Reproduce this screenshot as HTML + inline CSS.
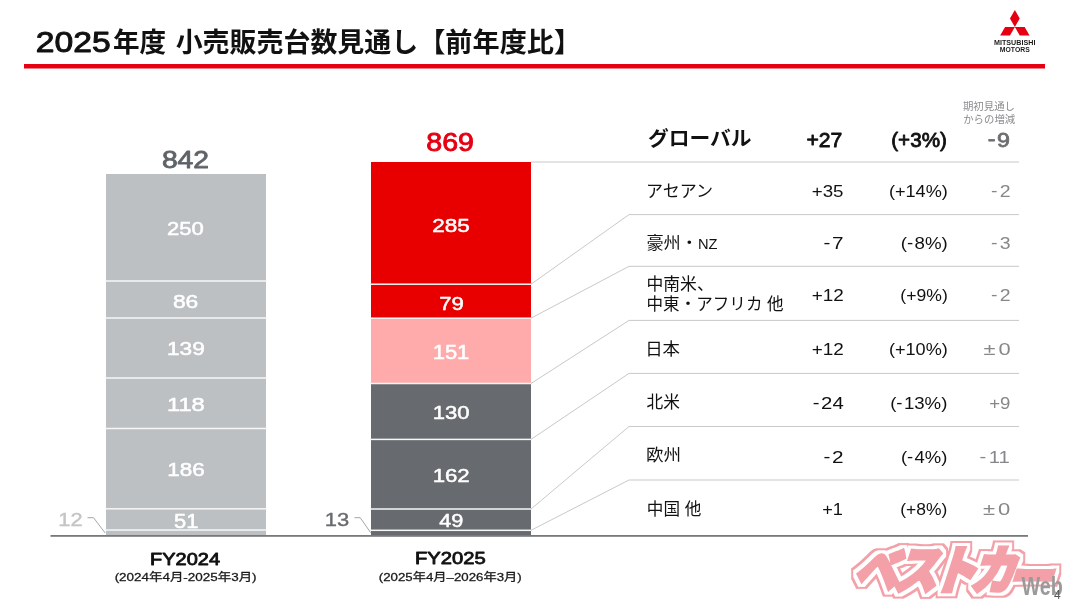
<!DOCTYPE html>
<html lang="ja">
<head>
<meta charset="utf-8">
<title>2025年度 小売販売台数見通し【前年度比】</title>
<style>
html,body{margin:0;padding:0;background:#fff;}
body{width:1071px;height:600px;overflow:hidden;font-family:"Liberation Sans","Noto Sans CJK JP",sans-serif;}
svg{display:block;}
svg text{font-family:"Liberation Sans","Noto Sans CJK JP",sans-serif;}
</style>
</head>
<body>
<svg width="1071" height="600" viewBox="0 0 1071 600">
<rect x="0" y="0" width="1071" height="600" fill="#ffffff"/>

<rect x="24" y="64" width="1021" height="4.5" fill="#e60012"/>
<text transform="translate(35.86 51.66) scale(1.1406 0.9839)" font-size="29.5" fill="#111111" stroke="#111111" stroke-width="1.0" stroke-linejoin="round">2025</text>
<text transform="translate(112.91 52.2) scale(0.9865 1.0000)" font-size="27" font-weight="bold" fill="#111111">年度 </text>
<text transform="translate(175.65 52.2) scale(0.9983 1.0000)" font-size="27" font-weight="bold" fill="#111111">小売販売台数見通し</text>
<text transform="translate(418.14 52.2) scale(1.0063 1.0000)" font-size="27" font-weight="bold" fill="#111111">【前年度比】</text>
<g fill="#e60012">
<polygon points="1014.86,26.90 1009.96,18.41 1014.86,9.93 1019.76,18.41"/>
<polygon points="1014.86,26.90 1005.06,26.90 1000.16,35.39 1009.96,35.39"/>
<polygon points="1014.86,26.90 1024.66,26.90 1029.56,35.39 1019.76,35.39"/>
</g>
<text transform="translate(994.03 44.8) scale(1.1380 1.0000)" font-size="6.3" font-weight="bold" fill="#1c1c1c">MITSUBISHI</text>
<text transform="translate(999.86 51.8) scale(1.0841 1.0000)" font-size="6.3" font-weight="bold" fill="#1c1c1c">MOTORS</text>
<rect x="106" y="174" width="160" height="361" fill="#bdc0c3"/>
<rect x="105" y="280.25" width="162" height="1.5" fill="#f6f6f7"/>
<rect x="105" y="317.25" width="162" height="1.5" fill="#f6f6f7"/>
<rect x="105" y="377.25" width="162" height="1.5" fill="#f6f6f7"/>
<rect x="105" y="427.75" width="162" height="1.5" fill="#f6f6f7"/>
<rect x="105" y="508.05" width="162" height="1.5" fill="#f6f6f7"/>
<rect x="105" y="529.25" width="162" height="1.5" fill="#f6f6f7"/>
<rect x="371" y="162" width="160" height="122.2" fill="#e80000"/>
<rect x="371" y="284.2" width="160" height="34.0" fill="#e80000"/>
<rect x="371" y="318.2" width="160" height="65.3" fill="#ffabab"/>
<rect x="371" y="383.5" width="160" height="55.9" fill="#676a6e"/>
<rect x="371" y="439.4" width="160" height="69.6" fill="#676a6e"/>
<rect x="371" y="509" width="160" height="21.3" fill="#676a6e"/>
<rect x="371" y="530.3" width="160" height="4.9" fill="#676a6e"/>
<rect x="370" y="283.45" width="162" height="1.5" fill="#f6f6f7"/>
<rect x="370" y="317.45" width="162" height="1.5" fill="#f6f6f7"/>
<rect x="370" y="382.75" width="162" height="1.5" fill="#f6f6f7"/>
<rect x="370" y="438.65" width="162" height="1.5" fill="#f6f6f7"/>
<rect x="370" y="508.25" width="162" height="1.5" fill="#f6f6f7"/>
<rect x="370" y="529.55" width="162" height="1.5" fill="#f6f6f7"/>
<rect x="50.5" y="535" width="977.5" height="1.8" fill="#77797b"/>
<g fill="none" stroke="#c8c9ca" stroke-width="1">
<path d="M531 162H1019"/>
<path d="M531 284.2L629 214.6H1019"/>
<path d="M531 318.2L629 266.3H1019"/>
<path d="M531 383.5L629 320.4H1019"/>
<path d="M531 439.4L629 373.4H1019"/>
<path d="M531 509L629 426.5H1019"/>
<path d="M531 530.3L629 480H1019"/>
</g>
<text transform="translate(161.88 168.04) scale(1.0874 0.9532)" font-size="26" fill="#5f6368" stroke="#5f6368" stroke-width="0.9" stroke-linejoin="round">842</text>
<text transform="translate(426.28 150.52) scale(1.0970 0.9740)" font-size="26" fill="#e60012" stroke="#e60012" stroke-width="0.9" stroke-linejoin="round">869</text>
<text transform="translate(167.09 234.83) scale(1.0758 0.9400)" font-size="20.5" fill="#ffffff" stroke="#ffffff" stroke-width="0.55" stroke-linejoin="round">250</text>
<text transform="translate(172.91 307.58) scale(1.1140 0.9400)" font-size="20.5" fill="#ffffff" stroke="#ffffff" stroke-width="0.55" stroke-linejoin="round">86</text>
<text transform="translate(167.02 355.48) scale(1.1039 0.9400)" font-size="20.5" fill="#ffffff" stroke="#ffffff" stroke-width="0.55" stroke-linejoin="round">139</text>
<text transform="translate(166.95 411.18) scale(1.1577 0.9400)" font-size="20.5" fill="#ffffff" stroke="#ffffff" stroke-width="0.55" stroke-linejoin="round">118</text>
<text transform="translate(167.23 476.38) scale(1.0946 0.9400)" font-size="20.5" fill="#ffffff" stroke="#ffffff" stroke-width="0.55" stroke-linejoin="round">186</text>
<text transform="translate(173.97 527.87) scale(1.0698 0.9559)" font-size="20.5" fill="#ffffff" stroke="#ffffff" stroke-width="0.55" stroke-linejoin="round">51</text>
<text transform="translate(432.18 231.78) scale(1.0992 0.9400)" font-size="20.5" fill="#ffffff" stroke="#ffffff" stroke-width="0.55" stroke-linejoin="round">285</text>
<text transform="translate(439.19 309.58) scale(1.0824 0.9400)" font-size="20.5" fill="#ffffff" stroke="#ffffff" stroke-width="0.55" stroke-linejoin="round">79</text>
<text transform="translate(432.66 358.87) scale(1.0729 0.9559)" font-size="20.5" fill="#ffffff" stroke="#ffffff" stroke-width="0.55" stroke-linejoin="round">151</text>
<text transform="translate(432.65 419.48) scale(1.0769 0.9400)" font-size="20.5" fill="#ffffff" stroke="#ffffff" stroke-width="0.55" stroke-linejoin="round">130</text>
<text transform="translate(432.64 482.48) scale(1.0853 0.9400)" font-size="20.5" fill="#ffffff" stroke="#ffffff" stroke-width="0.55" stroke-linejoin="round">162</text>
<text transform="translate(439.24 527.18) scale(1.0575 0.9400)" font-size="20.5" fill="#ffffff" stroke="#ffffff" stroke-width="0.55" stroke-linejoin="round">49</text>
<text transform="translate(58.3 526.45) scale(1.1605 1.0000)" font-size="18.8" fill="#c3c4c5" stroke="#c3c4c5" stroke-width="0.4" stroke-linejoin="round">12</text>
<path d="M87.5 517.7H93.5L105.2 533" fill="none" stroke="#a4a5a7" stroke-width="1"/>
<text transform="translate(324.84 526.45) scale(1.1684 1.0000)" font-size="18.8" fill="#686b6f" stroke="#686b6f" stroke-width="0.4" stroke-linejoin="round">13</text>
<path d="M354.5 517.7H360.2L370.7 532.7" fill="none" stroke="#a4a5a7" stroke-width="1"/>
<text transform="translate(150.1 564.53) scale(1.0976 0.9455)" font-size="18.2" fill="#111111" stroke="#111111" stroke-width="0.9" stroke-linejoin="round">FY2024</text>
<text transform="translate(414.89 564.24) scale(1.1100 0.9236)" font-size="18.2" fill="#111111" stroke="#111111" stroke-width="0.9" stroke-linejoin="round">FY2025</text>
<text transform="translate(114.63 580.7) scale(1.1401 1.0000)" font-size="11.8" fill="#1a1a1a" stroke="#1a1a1a" stroke-width="0.3" stroke-linejoin="round">(2024年4月-2025年3月)</text>
<text transform="translate(378.74 580.9) scale(1.1248 1.0000)" font-size="11.8" fill="#1a1a1a" stroke="#1a1a1a" stroke-width="0.3" stroke-linejoin="round">(2025年4月–2026年3月)</text>
<text transform="translate(647.99 145.74) scale(1.0139 0.9769)" font-size="20.5" font-weight="bold" fill="#111111">グローバル</text>
<text transform="translate(806.48 146.82) scale(1.0311 0.9639)" font-size="20.5" fill="#111111" stroke="#111111" stroke-width="0.85" stroke-linejoin="round">+27</text>
<text transform="translate(891.24 147) scale(1.0084 1.0000)" font-size="20.5" fill="#111111" stroke="#111111" stroke-width="0.85" stroke-linejoin="round">(+3%)</text>
<text transform="translate(987.63 147) scale(1.1307 1.0000)" font-size="20.5" fill="#6d6e70" stroke="#6d6e70" stroke-width="0.8" stroke-linejoin="round"><tspan dy="-1.3">-</tspan><tspan dy="1.3" dx="1.5">9</tspan></text>
<text transform="translate(962.88 110.3) scale(1.0433 1.0000)" font-size="10" fill="#8a8b8d">期初見通し</text>
<text transform="translate(963.22 122.6) scale(1.0408 1.0000)" font-size="10" fill="#8a8b8d">からの増減</text>
<text transform="translate(811.76 196.6) scale(1.1215 1.0000)" font-size="16.7" fill="#111111">+35</text>
<text transform="translate(888.91 196.6) scale(1.0852 1.0000)" font-size="16.7" fill="#111111">(+14%)</text>
<text transform="translate(990.92 196.6) scale(1.1672 1.0000)" font-size="16.7" fill="#868789"><tspan dy="-1">-</tspan><tspan dy="1" dx="2">2</tspan></text>
<text transform="translate(823.57 248.5) scale(1.2414 1.0000)" font-size="16.7" fill="#111111"><tspan dy="-1">-</tspan><tspan dy="1" dx="1.2">7</tspan></text>
<text transform="translate(900.78 248.5) scale(1.1200 1.0000)" font-size="16.7" fill="#111111">(<tspan dy="-1">-</tspan><tspan dy="1" dx="1.2">8%)</tspan></text>
<text transform="translate(990.92 248.5) scale(1.1672 1.0000)" font-size="16.7" fill="#868789"><tspan dy="-1">-</tspan><tspan dy="1" dx="2">3</tspan></text>
<text transform="translate(811.75 301) scale(1.1327 1.0000)" font-size="16.7" fill="#111111">+12</text>
<text transform="translate(900.35 301) scale(1.0535 1.0000)" font-size="16.7" fill="#111111">(+9%)</text>
<text transform="translate(990.92 301) scale(1.1672 1.0000)" font-size="16.7" fill="#868789"><tspan dy="-1">-</tspan><tspan dy="1" dx="2">2</tspan></text>
<text transform="translate(811.75 354.5) scale(1.1327 1.0000)" font-size="16.7" fill="#111111">+12</text>
<text transform="translate(888.91 354.5) scale(1.0852 1.0000)" font-size="16.7" fill="#111111">(+10%)</text>
<text transform="translate(983.54 354.5) scale(1.3128 1.0000)" font-size="16.7" fill="#868789">±<tspan dx="2.2">0</tspan></text>
<text transform="translate(812.84 409) scale(1.2188 1.0000)" font-size="16.7" fill="#111111"><tspan dy="-1">-</tspan><tspan dy="1" dx="1.2">24</tspan></text>
<text transform="translate(890.13 409) scale(1.1168 1.0000)" font-size="16.7" fill="#111111">(<tspan dy="-1">-</tspan><tspan dy="1" dx="1.2">13%)</tspan></text>
<text transform="translate(989.16 409) scale(1.1143 1.0000)" font-size="16.7" fill="#868789">+9</text>
<text transform="translate(823.57 462.5) scale(1.2414 1.0000)" font-size="16.7" fill="#111111"><tspan dy="-1">-</tspan><tspan dy="1" dx="1.2">2</tspan></text>
<text transform="translate(900.89 462.5) scale(1.1062 1.0000)" font-size="16.7" fill="#111111">(<tspan dy="-1">-</tspan><tspan dy="1" dx="1.2">4%)</tspan></text>
<text transform="translate(979.59 462.5) scale(1.2151 1.0000)" font-size="16.7" fill="#868789"><tspan dy="-1">-</tspan><tspan dy="1" dx="2">11</tspan></text>
<text transform="translate(822.19 515) scale(1.0857 1.0000)" font-size="16.7" fill="#111111">+1</text>
<text transform="translate(900.2 515) scale(1.0465 1.0000)" font-size="16.7" fill="#111111">(+8%)</text>
<text transform="translate(983.09 515) scale(1.3205 1.0000)" font-size="16.7" fill="#868789">±<tspan dx="2.2">0</tspan></text>
<text transform="translate(645.94 196.5) scale(1.0282 1.0000)" font-size="16.6" fill="#111111">アセアン</text>
<text transform="translate(646.47 248.75) scale(1.0335 1.0000)" font-size="16.6" fill="#111111">豪州・<tspan font-size="14.2">NZ</tspan></text>
<text transform="translate(646.48 290) scale(1.0140 1.0000)" font-size="16.6" fill="#111111">中南米、</text>
<text transform="translate(646.5 310) scale(0.9982 1.0000)" font-size="16.6" fill="#111111">中東・アフリカ 他</text>
<text transform="translate(645.15 354.75) scale(1.0508 1.0000)" font-size="16.6" fill="#111111">日本</text>
<text transform="translate(646.54 408.05) scale(1.0079 1.0000)" font-size="16.6" fill="#111111">北米</text>
<text transform="translate(645.98 461.45) scale(1.0579 1.0000)" font-size="16.6" fill="#111111">欧州</text>
<text transform="translate(646.8 514.75) scale(1.0029 1.0000)" font-size="16.6" fill="#111111">中国 他</text>
<defs><filter id="wm" x="-5%" y="-20%" width="110%" height="140%" color-interpolation-filters="sRGB">
<feMorphology in="SourceAlpha" operator="dilate" radius="4.6" result="d1"/>
<feFlood flood-color="#f4a0a8" result="c1"/><feComposite in="c1" in2="d1" operator="in" result="outer"/>
<feMorphology in="SourceAlpha" operator="dilate" radius="3.4" result="d2"/>
<feFlood flood-color="#ffffff" result="c2"/><feComposite in="c2" in2="d2" operator="in" result="white"/>
<feMerge><feMergeNode in="outer"/><feMergeNode in="white"/><feMergeNode in="SourceGraphic"/></feMerge>
</filter></defs>
<g filter="url(#wm)">
<g transform="translate(852 588.5) skewX(-18) scale(0.97 1.12)">
<text x="0" y="0" font-size="46" font-weight="900" letter-spacing="-6" fill="#f4a0a8" stroke="#f4a0a8" stroke-width="3" stroke-linejoin="miter">ベストカ<tspan dy="6">ー</tspan></text>
</g></g>
<text transform="translate(1021.5 594.55) scale(0.7751 0.9813)" font-size="25.5" font-weight="bold" fill="#9a9a9a">Web</text>
<text x="1054" y="599" font-size="12" fill="#555">4</text>
</svg>
</body>
</html>
